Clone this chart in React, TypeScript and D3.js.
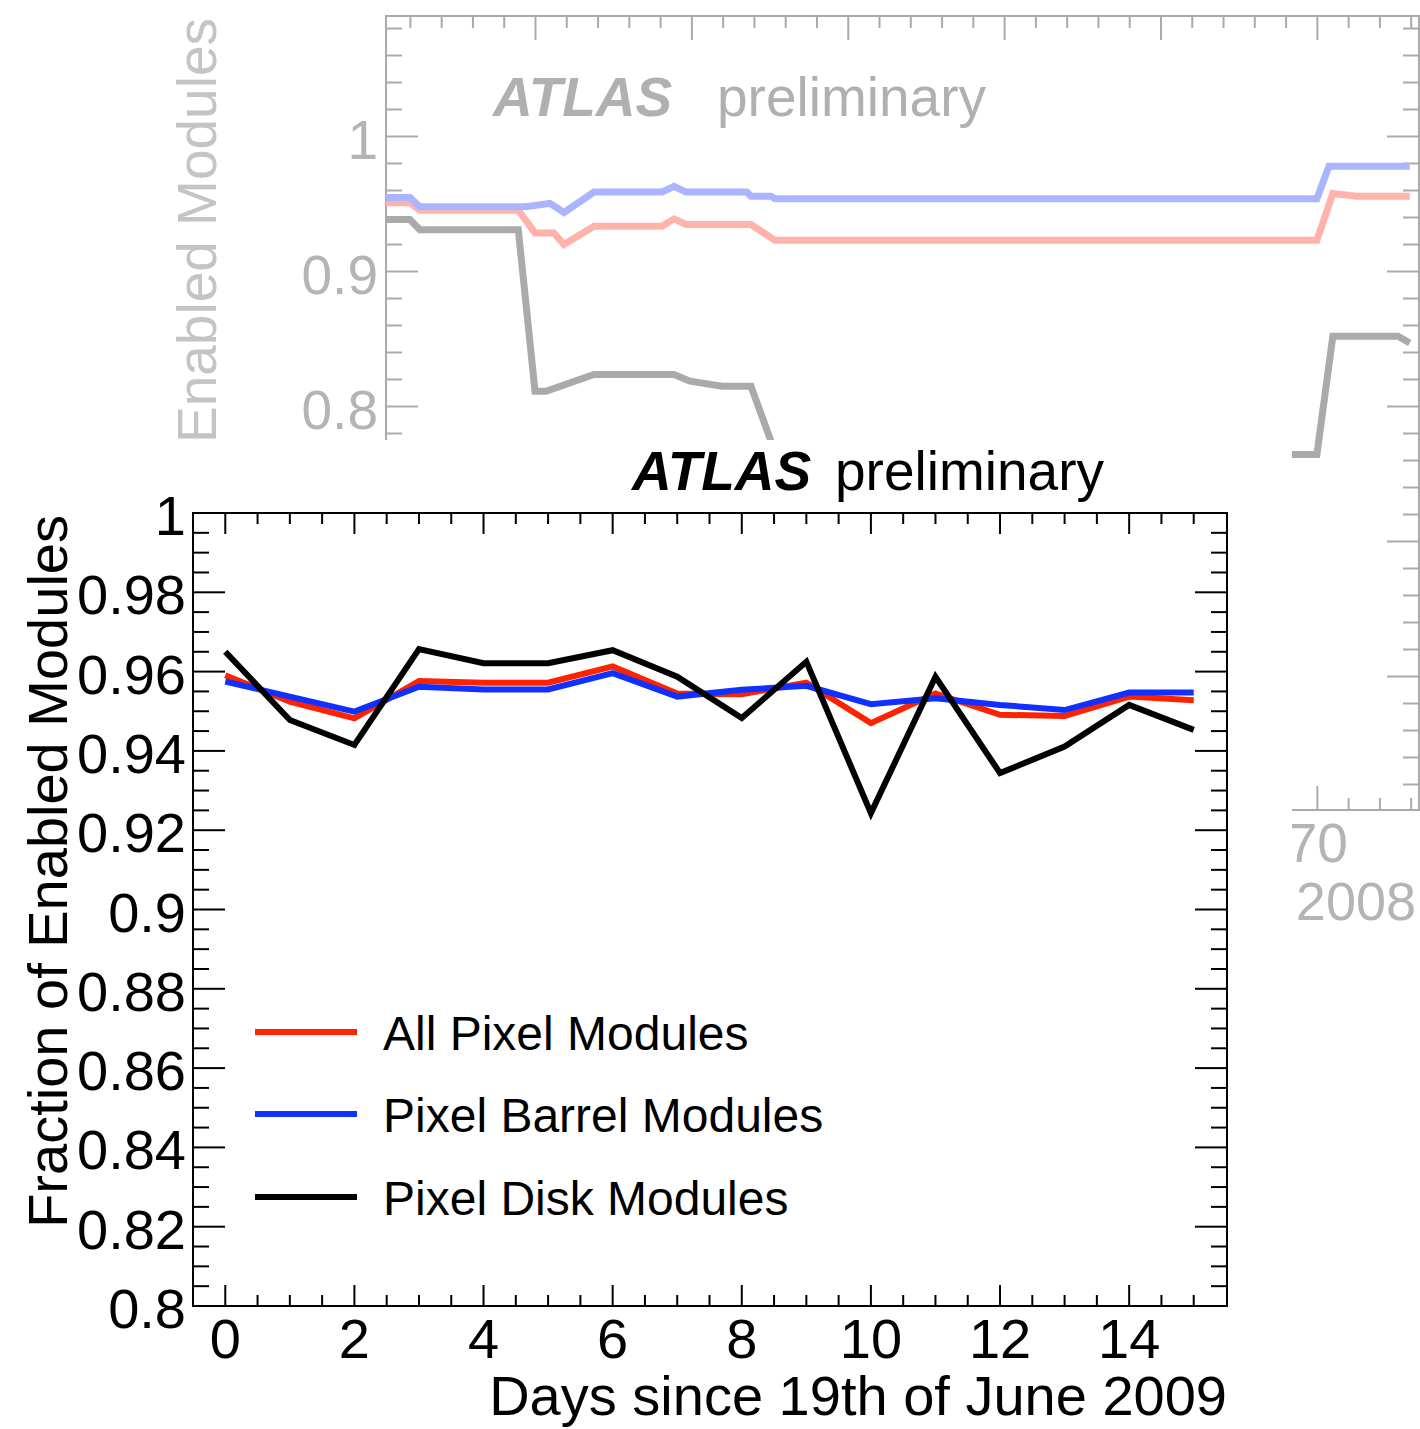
import React, { useEffect, useRef } from 'react'
import * as d3 from 'd3'

// front chart: one point per day
const days = [0, 1, 2, 3, 4, 5, 6, 7, 8, 9, 10, 11, 12, 13, 14, 15]
const allPixel = [0.9591, 0.9524, 0.9482, 0.9576, 0.9572, 0.9572, 0.9613, 0.9545, 0.9543, 0.9572, 0.947, 0.9545, 0.9491, 0.9488, 0.9537, 0.9528]
const barrel = [0.9575, 0.9537, 0.9499, 0.9562, 0.9555, 0.9555, 0.9596, 0.9537, 0.9554, 0.9564, 0.9518, 0.9533, 0.9516, 0.9503, 0.9547, 0.9547]
const disk = [0.965, 0.9478, 0.9415, 0.9657, 0.9621, 0.9621, 0.9654, 0.9587, 0.9483, 0.9625, 0.9243, 0.9587, 0.9344, 0.9411, 0.9516, 0.9453]
const legendLabels = ['All Pixel Modules', 'Pixel Barrel Modules', 'Pixel Disk Modules']
const yTicks = [0.8, 0.82, 0.84, 0.86, 0.88, 0.9, 0.92, 0.94, 0.96, 0.98, 1]
const xTicks = [0, 2, 4, 6, 8, 10, 12, 14]

// faded chart behind (2008), [day, fraction]
const backAll: [number, number][] = [[10.44, 0.951], [11.97, 0.951], [12.6, 0.9454], [18.9, 0.9454], [19.97, 0.9286], [21.18, 0.9286], [21.82, 0.92], [23.74, 0.9336], [28.09, 0.9336], [28.86, 0.939], [29.63, 0.9348], [33.78, 0.9348], [35.31, 0.9232], [69.97, 0.9232], [70.99, 0.9578], [72.53, 0.9558], [75.91, 0.9558]]
const backBarrel: [number, number][] = [[10.44, 0.9548], [11.97, 0.9548], [12.6, 0.948], [19.37, 0.948], [20.93, 0.9505], [21.82, 0.9437], [23.74, 0.9588], [28.09, 0.9588], [28.86, 0.963], [29.63, 0.9588], [33.52, 0.9588], [33.78, 0.9558], [35.06, 0.9558], [35.31, 0.9539], [69.97, 0.9539], [70.74, 0.978], [75.91, 0.978]]
const backDisk: [number, number][] = [[10.44, 0.9385], [11.97, 0.9385], [12.6, 0.931], [18.9, 0.931], [19.97, 0.8113], [20.67, 0.8113], [23.74, 0.8237], [28.86, 0.8237], [29.88, 0.8188], [31.93, 0.815], [33.78, 0.815], [35.37, 0.7644], [69.97, 0.7644], [70.99, 0.852], [75.15, 0.852], [75.91, 0.847]]
const backYTicks = [0.8, 0.9, 1]
const backXTicks = [70]

const FONT = "'Liberation Sans', Arial, Helvetica, sans-serif"

const App = () => {
  const ref = useRef<SVGSVGElement>(null)

  useEffect(() => {
    const svg = d3.select(ref.current)
    svg.selectAll('*').remove()

    // ---------- background chart ----------
    const bx = d3.scaleLinear().domain([10.44, 76.5]).range([386, 1419])
    const by = d3.scaleLinear().domain([0.5, 1.09]).range([811.5, 15])
    const back = svg.append('g')
    const grey = '#aaaaaa'

    back.append('rect')
      .attr('x', 386).attr('y', 16).attr('width', 1033).attr('height', 794)
      .attr('fill', 'none').attr('stroke', grey).attr('stroke-width', 2)

    const bxMinor = d3.range(12, 77, 2)
    bxMinor.forEach((v) => {
      const major = v % 10 === 0
      const len = major ? 24 : 12
      back.append('line').attr('x1', bx(v)).attr('x2', bx(v)).attr('y1', 16).attr('y2', 16 + len).attr('stroke', grey).attr('stroke-width', 2)
      back.append('line').attr('x1', bx(v)).attr('x2', bx(v)).attr('y1', 810).attr('y2', 810 - len).attr('stroke', grey).attr('stroke-width', 2)
    })
    const byMinor = d3.range(26, 55).map((d) => d / 50)
    byMinor.forEach((v) => {
      const major = Math.round(v * 100) % 10 === 0
      const len = major ? 32 : 16
      back.append('line').attr('x1', 386).attr('x2', 386 + len).attr('y1', by(v)).attr('y2', by(v)).attr('stroke', grey).attr('stroke-width', 2)
      back.append('line').attr('x1', 1419).attr('x2', 1419 - len).attr('y1', by(v)).attr('y2', by(v)).attr('stroke', grey).attr('stroke-width', 2)
    })

    back.selectAll('.byl').data(backYTicks).join('text')
      .attr('x', 378).attr('y', (d) => by(d) + 22)
      .attr('text-anchor', 'end').attr('font-size', 55).attr('font-family', FONT).attr('fill', '#b4b4b4')
      .text((d) => String(d))
    back.selectAll('.bxl').data(backXTicks).join('text')
      .attr('x', (d) => bx(d)).attr('y', 862)
      .attr('text-anchor', 'middle').attr('font-size', 55).attr('font-family', FONT).attr('fill', '#b4b4b4')
      .text((d) => String(d))
    back.append('text').attr('x', 1416).attr('y', 920).attr('text-anchor', 'end')
      .attr('font-size', 54).attr('font-family', FONT).attr('fill', '#b4b4b4').text('2008')
    back.append('text')
      .attr('transform', 'translate(216,18) rotate(-90)')
      .attr('text-anchor', 'end').attr('font-size', 55).attr('font-family', FONT).attr('fill', '#c4c4c4')
      .text('Fraction of Enabled Modules')

    const backTitle = back.append('text').attr('x', 493).attr('y', 116).attr('font-size', 55).attr('font-family', FONT).attr('fill', '#b0b0b0')
    backTitle.append('tspan').attr('font-weight', 'bold').attr('font-style', 'italic').text('ATLAS')
    backTitle.append('tspan').attr('x', 717).text('preliminary')

    const bline = d3.line<[number, number]>().x((d) => bx(d[0])).y((d) => by(d[1]))
    const backSeries: [[number, number][], string][] = [[backDisk, '#aaaaaa'], [backAll, '#ffb3aa'], [backBarrel, '#aab4ff']]
    backSeries.forEach(([pts, c]) => {
      back.append('path').attr('d', bline(pts)).attr('fill', 'none').attr('stroke', c).attr('stroke-width', 7).attr('stroke-linejoin', 'miter')
    })

    // white pad of the front chart hides part of the back
    svg.append('rect').attr('x', 0).attr('y', 440).attr('width', 1292).attr('height', 1000).attr('fill', '#fff')

    // ---------- front chart ----------
    const x = d3.scaleLinear().domain([-0.5, 15.5]).range([193, 1226])
    const y = d3.scaleLinear().domain([0.8, 1]).range([1306, 513])
    const g = svg.append('g')

    const xMinor = d3.range(0, 31).map((d) => d / 2)
    xMinor.forEach((v) => {
      const len = v % 2 === 0 ? 21 : 11
      g.append('line').attr('x1', x(v)).attr('x2', x(v)).attr('y1', 513).attr('y2', 513 + len).attr('stroke', '#000').attr('stroke-width', 2)
      g.append('line').attr('x1', x(v)).attr('x2', x(v)).attr('y1', 1306).attr('y2', 1306 - len).attr('stroke', '#000').attr('stroke-width', 2)
    })
    const yMinor = d3.range(161, 200).map((d) => d / 200)
    yMinor.forEach((v) => {
      const len = Math.round(v * 1000) % 20 === 0 ? 32 : 16
      g.append('line').attr('x1', 193).attr('x2', 193 + len).attr('y1', y(v)).attr('y2', y(v)).attr('stroke', '#000').attr('stroke-width', 2)
      g.append('line').attr('x1', 1227).attr('x2', 1227 - len).attr('y1', y(v)).attr('y2', y(v)).attr('stroke', '#000').attr('stroke-width', 2)
    })
    g.append('rect').attr('x', 193).attr('y', 513).attr('width', 1034).attr('height', 793)
      .attr('fill', 'none').attr('stroke', '#000').attr('stroke-width', 2)

    g.selectAll('.yl').data(yTicks).join('text')
      .attr('x', 186).attr('y', (d) => y(d) + 22)
      .attr('text-anchor', 'end').attr('font-size', 56).attr('font-family', FONT).attr('fill', '#000')
      .text((d) => String(d))
    g.selectAll('.xl').data(xTicks).join('text')
      .attr('x', (d) => x(d)).attr('y', 1358)
      .attr('text-anchor', 'middle').attr('font-size', 56).attr('font-family', FONT).attr('fill', '#000')
      .text((d) => String(d))
    g.append('text').attr('x', 1227).attr('y', 1415).attr('text-anchor', 'end')
      .attr('font-size', 56).attr('font-family', FONT).attr('fill', '#000').text('Days since 19th of June 2009')
    g.append('text')
      .attr('transform', 'translate(67,515) rotate(-90)')
      .attr('text-anchor', 'end').attr('font-size', 56).attr('font-family', FONT).attr('fill', '#000')
      .text('Fraction of Enabled Modules')

    const title = g.append('text').attr('x', 632).attr('y', 490).attr('font-size', 55).attr('font-family', FONT).attr('fill', '#000')
    title.append('tspan').attr('font-weight', 'bold').attr('font-style', 'italic').text('ATLAS')
    title.append('tspan').attr('x', 835).text('preliminary')

    const series: [number[], string][] = [[allPixel, '#ff2200'], [barrel, '#1030ff'], [disk, '#000000']]
    const line = d3.line<number>().x((_, i) => x(days[i])).y((d) => y(d))
    series.forEach(([vals, c]) => {
      g.append('path').attr('d', line(vals)).attr('fill', 'none').attr('stroke', c).attr('stroke-width', 6).attr('stroke-linejoin', 'miter')
    })

    // legend
    const legY = [1032, 1114, 1197]
    series.forEach(([, c], i) => {
      g.append('line').attr('x1', 255).attr('x2', 357).attr('y1', legY[i]).attr('y2', legY[i]).attr('stroke', c).attr('stroke-width', 6)
      g.append('text').attr('x', 383).attr('y', legY[i] + 18).attr('font-size', 48).attr('font-family', FONT).attr('fill', '#000').text(legendLabels[i])
    })
  }, [])

  return <svg ref={ref} width={1420} height={1429} style={{ position: 'absolute', left: 0, top: 0, background: '#fff' }}></svg>
}

export default App
